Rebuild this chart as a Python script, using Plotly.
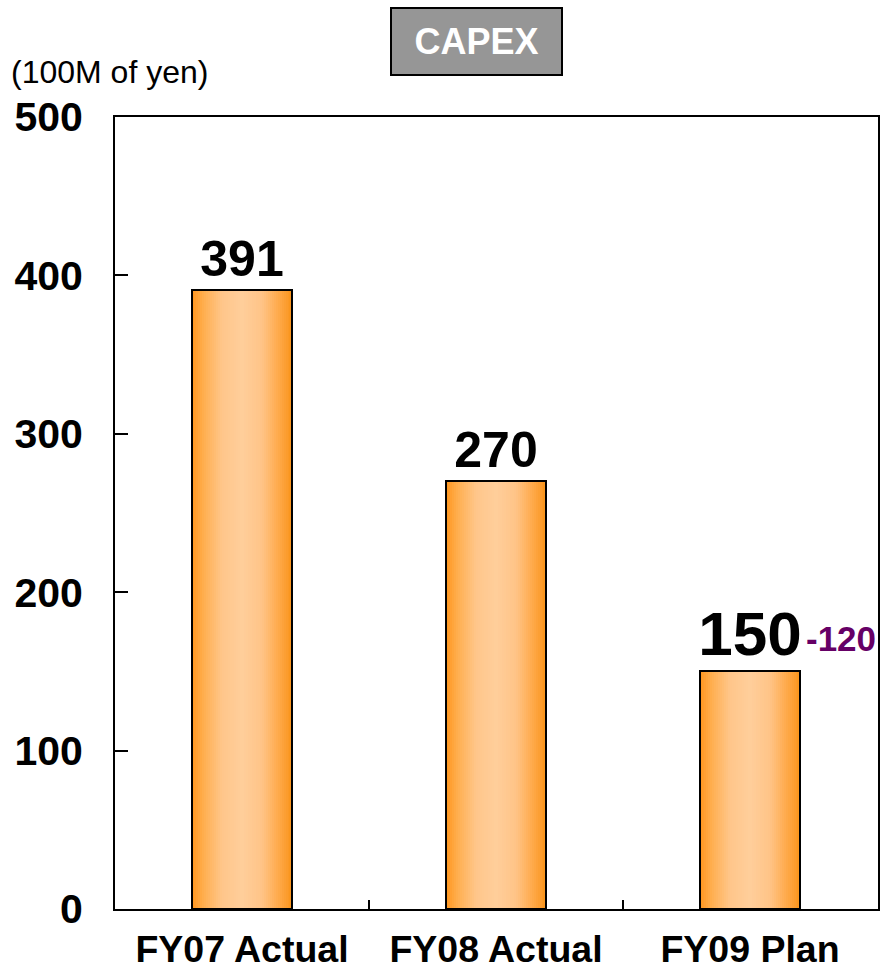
import plotly.graph_objects as go

categories = ["FY07 Actual", "FY08 Actual", "FY09 Plan"]
values = [391, 270, 150]
value_labels = ["391", "270", "150"]
change_labels = ["", "", "-120"]
y_ticks = [0, 100, 200, 300, 400, 500]

FONT = "Liberation Sans, Arial, sans-serif"
BAR_W = 0.39

# horizontal gradient stops (position, rgb)
stops = [
    (0.00, (255, 150, 30)),
    (0.12, (255, 175, 80)),
    (0.30, (255, 198, 138)),
    (0.50, (255, 206, 155)),
    (0.70, (255, 196, 135)),
    (0.85, (255, 172, 80)),
    (1.00, (250, 148, 28)),
]


def grad(t):
    for (p0, c0), (p1, c1) in zip(stops[:-1], stops[1:]):
        if p0 <= t <= p1:
            f = (t - p0) / (p1 - p0) if p1 > p0 else 0
            c = [round(a + (b - a) * f) for a, b in zip(c0, c1)]
            return f"rgb({c[0]},{c[1]},{c[2]})"
    return f"rgb{stops[-1][1]}"


fig = go.Figure()
N = 50
sw = BAR_W / N
for i in range(N):
    t = (i + 0.5) / N
    w = sw * 1.6 if i < N - 1 else sw
    fig.add_trace(go.Bar(
        x=categories, y=values,
        width=[w] * len(values),
        offset=[-BAR_W / 2 + i * sw] * len(values),
        marker=dict(color=grad(t), line=dict(width=0)),
        hoverinfo="skip", showlegend=False,
    ))

fig.add_trace(go.Bar(
    x=categories, y=values,
    width=[BAR_W] * len(values),
    offset=[-BAR_W / 2] * len(values),
    marker=dict(color="rgba(0,0,0,0)", line=dict(color="black", width=2)),
    text=value_labels, textposition="outside", constraintext="none",
    textfont=dict(family=FONT, size=[50, 50, 62], color="black", weight="bold"),
    cliponaxis=False, showlegend=False, hoverinfo="skip",
))

for c, v, lab in zip(categories, values, change_labels):
    if lab:
        fig.add_annotation(
            x=c, y=v, xref="x", yref="y", text=f"<b>{lab}</b>",
            showarrow=False, xanchor="left", yanchor="middle",
            xshift=54, yshift=33,
            font=dict(family=FONT, size=35, color="#660066"),
        )

fig.add_annotation(
    xref="paper", yref="paper", x=0.4738, y=1.0953,
    text="<b>CAPEX</b>", showarrow=False, xanchor="center", yanchor="middle",
    width=165, height=61, bgcolor="#969696", bordercolor="black",
    borderwidth=2, borderpad=2,
    font=dict(family=FONT, size=36, color="white"),
)
fig.add_annotation(
    xref="paper", yref="paper", x=-0.139, y=1.0568,
    text="(100M of yen)", showarrow=False, xanchor="left", yanchor="middle",
    font=dict(family=FONT, size=32, color="black"),
)

fig.update_layout(
    width=881, height=969,
    margin=dict(l=115, r=3, t=117, b=60, autoexpand=False),
    paper_bgcolor="white", plot_bgcolor="white",
    barmode="overlay", bargap=0,
    font=dict(family=FONT, color="black"),
)
fig.update_xaxes(
    type="category", showline=True, linecolor="black", linewidth=2, mirror=True,
    ticks="inside", tickson="boundaries", ticklen=9, tickwidth=2, tickcolor="black",
    tickfont=dict(family=FONT, size=37.5, color="black", weight="bold"),
    ticklabelstandoff=6, showgrid=False, automargin=False,
)
fig.update_yaxes(
    range=[0, 500], tickvals=y_ticks, ticktext=[str(v) for v in y_ticks],
    showline=True, linecolor="black", linewidth=2, mirror=True,
    ticks="inside", ticklen=13, tickwidth=2, tickcolor="black",
    tickfont=dict(family=FONT, size=41, color="black", weight="bold"),
    ticklabelstandoff=22, showgrid=False, zeroline=False, automargin=False,
)

fig.write_html("out.html")
